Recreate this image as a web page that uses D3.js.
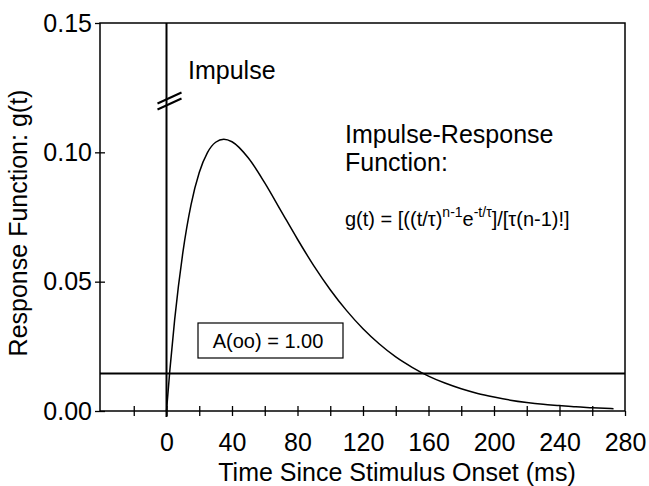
<!DOCTYPE html>
<html>
<head>
<meta charset="utf-8">
<script src="https://cdn.jsdelivr.net/npm/d3@7"></script>
<style>
  html, body { margin: 0; padding: 0; background: #fff; }
  svg { display: block; font-family: "Liberation Sans", Arial, Helvetica, sans-serif; }
</style>
</head>
<body>
<svg id="chart" width="649" height="486"></svg>
<script>
// ---- data ----
const timeMs = [0, 2, 5, 10, 15, 20, 25, 30, 35, 40, 50, 60, 70, 80, 90, 100, 110, 120,
                130, 140, 150, 160, 170, 180, 190, 200, 210, 220, 230, 240, 250, 260, 273];
const response = [0, 0.0154, 0.0354, 0.0613, 0.0798, 0.0922, 0.0999, 0.1039, 0.1051, 0.1041,
                  0.0978, 0.0882, 0.0773, 0.0664, 0.0561, 0.0469, 0.0388, 0.0318,
                  0.0259, 0.0209, 0.0169, 0.0135, 0.0108, 0.0086, 0.0068, 0.0054,
                  0.0042, 0.0033, 0.0026, 0.0021, 0.0016, 0.0013, 0.0009];
const thresholdLevel = 0.0145;
const impulseTime = 0;
const xTicksMinor = [-20, 0, 20, 40, 60, 80, 100, 120, 140, 160, 180, 200, 220, 240, 260, 280];
const xTickLabels = [0, 40, 80, 120, 160, 200, 240, 280];
const yTicks = [0, 0.05, 0.10, 0.15];
const xDomain = [-40, 280];
const yDomain = [0, 0.15];
const xTitle = "Time Since Stimulus Onset (ms)";
const yTitle = "Response Function: g(t)";
const impulseLabel = "Impulse";
const irfTitle = ["Impulse-Response", "Function:"];
const areaLabel = "A(oo) = 1.00";

// ---- layout ----
const svg = d3.select("#chart");
const L = 101, R = 625, T = 23, B = 411;
const x = d3.scaleLinear().domain(xDomain).range([L, R]);
const y = d3.scaleLinear().domain(yDomain).range([B, T]);
const fs = "25px";

// frame
svg.append("rect").attr("x", L - 1).attr("y", T).attr("width", R - L + 1).attr("height", B - T)
  .attr("fill", "none").attr("stroke", "#000").attr("stroke-width", 1.5);

// y axis: labels + outward ticks, plus inward ticks for the cross marks
const yAxisOut = d3.axisLeft(y).tickValues(yTicks).tickSize(5).tickPadding(3)
  .tickFormat(d3.format(".2f"));
const yAxisIn = d3.axisRight(y).tickValues(yTicks.filter(v => v < 0.15)).tickSize(5).tickFormat("");
const gy = svg.append("g").attr("transform", `translate(${L - 1},0)`).call(yAxisOut);
const gy2 = svg.append("g").attr("transform", `translate(${L - 1},0)`).call(yAxisIn);
[gy, gy2].forEach(g => {
  g.select(".domain").remove();
  g.selectAll("line").attr("stroke", "#000").attr("stroke-width", 1.3);
});
gy.selectAll("text").attr("font-size", fs).attr("fill", "#000")
  .attr("font-family", "Liberation Sans, Arial, sans-serif");

// x axis
const xAxisOut = d3.axisBottom(x).tickValues(xTicksMinor).tickSize(5).tickPadding(17)
  .tickFormat(d => xTickLabels.includes(d) ? d3.format("d")(d) : "");
const xAxisIn = d3.axisTop(x).tickValues(xTicksMinor.filter(v => v < 280)).tickSize(5).tickFormat("");
const gx = svg.append("g").attr("transform", `translate(0,${B})`).call(xAxisOut);
const gx2 = svg.append("g").attr("transform", `translate(0,${B})`).call(xAxisIn);
[gx, gx2].forEach(g => {
  g.select(".domain").remove();
  g.selectAll("line").attr("stroke", "#000").attr("stroke-width", 1.3);
});
gx.selectAll("text").attr("font-size", fs).attr("fill", "#000")
  .attr("font-family", "Liberation Sans, Arial, sans-serif");

// horizontal threshold line
svg.append("line")
  .attr("x1", L - 1).attr("x2", x(xDomain[1]))
  .attr("y1", y(thresholdLevel)).attr("y2", y(thresholdLevel))
  .attr("stroke", "#000").attr("stroke-width", 2);

// impulse line
svg.append("line")
  .attr("x1", x(impulseTime)).attr("x2", x(impulseTime))
  .attr("y1", y(yDomain[1])).attr("y2", y(0) + 6)
  .attr("stroke", "#000").attr("stroke-width", 2);

// break marks on impulse
const bx = x(impulseTime), by = 101;
[-3, 3].forEach(off => {
  svg.append("line")
    .attr("x1", bx - 9).attr("y1", by + off + 5.5)
    .attr("x2", bx + 15).attr("y2", by + off - 5.5)
    .attr("stroke", "#000").attr("stroke-width", 2);
});

// response curve
const pts = timeMs.map((t, i) => [t, response[i]]);
svg.append("path").datum(pts)
  .attr("d", d3.line().x(d => x(d[0])).y(d => y(d[1])).curve(d3.curveMonotoneX))
  .attr("fill", "none").attr("stroke", "#000").attr("stroke-width", 1.5);

// area box
const boxG = svg.append("g");
boxG.append("rect").attr("x", 198).attr("y", 323).attr("width", 145).attr("height", 35)
  .attr("fill", "#fff").attr("stroke", "#000").attr("stroke-width", 1.2);
boxG.append("text").attr("x", 268).attr("y", 348).attr("text-anchor", "middle")
  .attr("font-size", "20px").text(areaLabel);

// annotations
svg.append("text").attr("x", 188).attr("y", 79).attr("font-size", fs).text(impulseLabel);
irfTitle.forEach((s, i) => {
  svg.append("text").attr("x", 345).attr("y", 143 + i * 28).attr("font-size", fs).text(s);
});

// formula with superscripts
const f = svg.append("text").attr("x", 345).attr("y", 226).attr("font-size", "20px");
f.append("tspan").text("g(t) = [((t/τ)");
f.append("tspan").attr("dy", -9).attr("font-size", "14px").text("n-1");
f.append("tspan").attr("dy", 9).text("e");
f.append("tspan").attr("dy", -9).attr("font-size", "14px").text("-t/τ");
f.append("tspan").attr("dy", 9).text("]/[τ(n-1)!]");

// axis titles
svg.append("text").attr("x", 397).attr("y", 481).attr("text-anchor", "middle")
  .attr("font-size", fs).text(xTitle);
svg.append("text").attr("transform", `translate(27,223) rotate(-90)`)
  .attr("text-anchor", "middle").attr("font-size", fs).text(yTitle);
</script>
</body>
</html>
